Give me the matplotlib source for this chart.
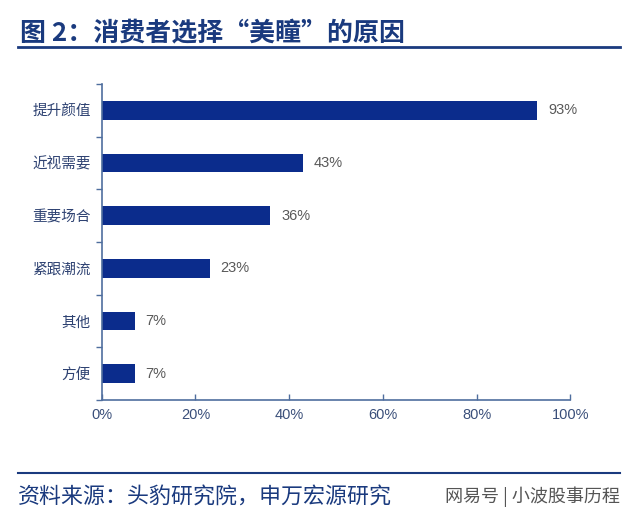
import matplotlib
matplotlib.use("Agg")
import matplotlib.pyplot as plt
from matplotlib.lines import Line2D

plt.rcParams['font.family'] = ['Noto Sans CJK SC', 'DejaVu Sans']

categories = ["提升颜值", "近视需要", "重要场合", "紧跟潮流", "其他", "方便"]
values = [93, 43, 36, 23, 7, 7]
xticks = [0, 20, 40, 60, 80, 100]
xtick_labels = ["0%", "20%", "40%", "60%", "80%", "100%"]
title = "图 2：消费者选择“美瞳”的原因"
source = "资料来源：头豹研究院，申万宏源研究"
watermark = "网易号 | 小波股事历程"

bar_color = "#0B2C8C"
navy = "#1A3A7E"
axis_color = "#4F6E9E"
num_font = ['Liberation Sans', 'DejaVu Sans']

fig = plt.figure(figsize=(6.4, 5.22), dpi=100)
ax = fig.add_axes([0.159, 0.2337, 0.732, 0.6054])

n = len(categories)
ypos = list(range(n))
ax.barh(ypos, values, height=0.35, color=bar_color)
ax.set_ylim(n - 0.5, -0.5)
ax.set_xlim(0, 100)

for y, v in zip(ypos, values):
    ax.text(v + 2.3, y, f"{v}%", va="center", ha="left", fontsize=10.5,
            color="#595959", family=num_font)

ax.set_xticks(xticks)
ax.set_xticklabels(xtick_labels, fontsize=10.5, color="#3A4F7A", family=num_font)
ax.set_yticks(ypos)
ax.set_yticklabels(categories, fontsize=10.5, color="#2E4272")
ax.tick_params(axis="y", length=0, pad=8)
ax.set_yticks([i - 0.5 for i in range(n + 1)], minor=True)
ax.tick_params(axis="y", which="minor", length=4, color=axis_color, width=1)
ax.tick_params(axis="x", length=4, direction="in", color=axis_color, width=1, pad=6)
for s in ["top", "right"]:
    ax.spines[s].set_visible(False)
for s in ["left", "bottom"]:
    ax.spines[s].set_color(axis_color)
    ax.spines[s].set_linewidth(1.2)

fig.text(20 / 640, 1 - 33 / 522, title, fontsize=18.7, fontweight="bold", color=navy,
         va="center", ha="left")
fig.add_artist(Line2D([18 / 640, 620 / 640], [1 - 47 / 522] * 2, color=navy, linewidth=2))
fig.add_artist(Line2D([18 / 640, 620 / 640], [1 - 473 / 522] * 2, color=navy, linewidth=1.5))
fig.text(18 / 640, 1 - 497 / 522, source, fontsize=15.8, color=navy, va="center", ha="left")
fig.text(620 / 640, 1 - 497 / 522, watermark, fontsize=13, color="#555555", va="center", ha="right")

fig.savefig("out.png", dpi=100)
